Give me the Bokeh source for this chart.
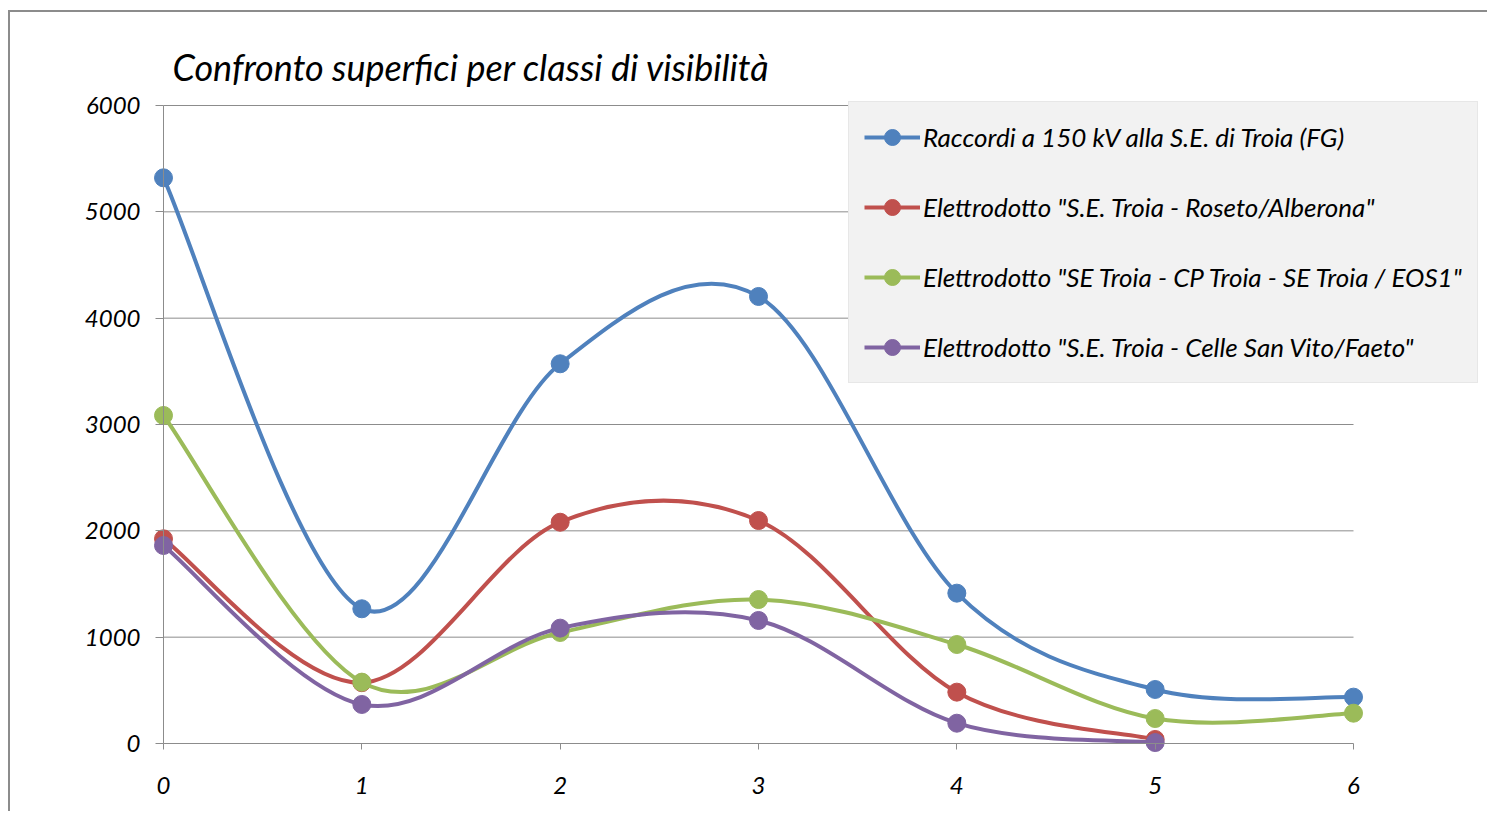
from bokeh.plotting import figure
from bokeh.models import Range1d, Legend, LegendItem, FixedTicker, ColumnDataSource
from bokeh.embed import file_html
from bokeh.resources import INLINE

# ---- data ----
classes = [0, 1, 2, 3, 4, 5, 6]
series_names = [
    "Raccordi a 150 kV alla S.E. di Troia (FG)",
    "Elettrodotto \"S.E. Troia - Roseto/Alberona\"",
    "Elettrodotto \"SE Troia - CP Troia - SE Troia / EOS1\"",
    "Elettrodotto \"S.E. Troia - Celle San Vito/Faeto\"",
]
raccordi = [5320, 1267, 3571, 4204, 1414, 508, 436]
roseto = [1925, 572, 2081, 2097, 483, 38]
eos1 = [3085, 577, 1044, 1354, 931, 235, 285]
celle = [1862, 367, 1085, 1157, 191, 9]
colors = ["#4F81BD", "#C0504D", "#9BBB59", "#8064A2"]
y_ticks = [0, 1000, 2000, 3000, 4000, 5000, 6000]
title_text = "Confronto superfici per classi di visibilità"

FONT = "Lato"

# layout (page px): frame left 70, right 1478, top 95, bottom 800
# x=0 at 163, x=6 at 1353; y=0 at 743, y=6000 at 105
px_x = (1353 - 163) / 6.0
px_y = (743 - 105) / 6000.0
x_start = (70 - 163) / px_x
x_end = (1478 - 163) / px_x
y_end = 6000 + (105 - 95) / px_y
y_start = -(800 - 743) / px_y

p = figure(
    width=1487, height=811,
    x_range=Range1d(x_start, x_end), y_range=Range1d(y_start, y_end),
    output_backend="svg", toolbar_location=None,
    min_border_left=70, min_border_right=9, min_border_top=95, min_border_bottom=11,
    title=title_text,
)
p.border_fill_color = None
p.background_fill_color = None
p.outline_line_color = None
p.styles = {
    "background": "linear-gradient(#8c8c8c,#8c8c8c) 8px 10px / 2px 100% no-repeat, "
                  "linear-gradient(#8c8c8c,#8c8c8c) 8px 10px / 100% 2px no-repeat, #ffffff"
}

p.title.text_font = FONT
p.title.text_font_style = "italic"
p.title.text_font_size = "36px"
p.title.text_font_style = "italic"
p.title.text_color = "#000000"
p.title.align = "left"
p.title.offset = 102
p.title.standoff = 13

p.grid.visible = False

# horizontal grid lines across the category span
gx0 = [classes[0]] * (len(y_ticks) - 1)
gx1 = [classes[-1]] * (len(y_ticks) - 1)
p.segment(x0=gx0, y0=y_ticks[1:], x1=gx1, y1=y_ticks[1:], line_color="#8c8c8c", line_width=1)

for ax in (p.xaxis[0], p.yaxis[0]):
    ax.fixed_location = 0
    ax.axis_line_color = "#8c8c8c"
    ax.axis_line_width = 1
    ax.major_tick_line_color = "#8c8c8c"
    ax.minor_tick_line_color = None
    ax.major_tick_in = 0
    ax.major_label_text_font = FONT
    ax.major_label_text_font_style = "italic"
    ax.major_label_text_font_size = "24px"
    ax.major_label_text_color = "#000000"

p.xaxis[0].bounds = (0, 6)
p.xaxis[0].ticker = FixedTicker(ticks=classes)
p.xaxis[0].major_tick_out = 6
p.xaxis[0].major_label_standoff = 27

p.yaxis[0].bounds = (0, 6000)
p.yaxis[0].ticker = FixedTicker(ticks=y_ticks)
p.yaxis[0].major_tick_out = 8
p.yaxis[0].major_label_standoff = 15


def smooth(xs, ys):
    # Catmull-Rom style Bezier control points (Excel-like smoothing)
    n = len(xs)
    x0, y0, x1, y1, cx0, cy0, cx1, cy1 = [], [], [], [], [], [], [], []
    for i in range(n - 1):
        xm = xs[i - 1] if i > 0 else xs[i]
        ym = ys[i - 1] if i > 0 else ys[i]
        xp = xs[i + 2] if i + 2 < n else xs[i + 1]
        yp = ys[i + 2] if i + 2 < n else ys[i + 1]
        x0.append(xs[i]); y0.append(ys[i])
        x1.append(xs[i + 1]); y1.append(ys[i + 1])
        cx0.append(xs[i] + (xs[i + 1] - xm) / 6.0)
        cy0.append(ys[i] + (ys[i + 1] - ym) / 6.0)
        cx1.append(xs[i + 1] - (xp - xs[i]) / 6.0)
        cy1.append(ys[i + 1] - (yp - ys[i]) / 6.0)
    return dict(x0=x0, y0=y0, x1=x1, y1=y1, cx0=cx0, cy0=cy0, cx1=cx1, cy1=cy1)


items = []
for name, vals, col in zip(series_names, [raccordi, roseto, eos1, celle], colors):
    xs = classes[:len(vals)]
    src = ColumnDataSource(smooth(xs, vals))
    rb = p.bezier(x0="x0", y0="y0", x1="x1", y1="y1", cx0="cx0", cy0="cy0", cx1="cx1", cy1="cy1",
                  source=src, line_color=col, line_width=4)
    rs = p.scatter(x=xs, y=vals, size=18, marker="circle", fill_color=col, line_color=col)
    items.append(LegendItem(label=name, renderers=[rb, rs]))

legend = Legend(items=items, location=(778, 417))
legend.background_fill_color = "#f2f2f2"
legend.background_fill_alpha = 1.0
legend.border_line_color = "#dcdcdc"
legend.border_line_width = 1
legend.padding = 15
legend.margin = 0
legend.spacing = 30
legend.glyph_width = 56
legend.glyph_height = 40
legend.label_height = 40
legend.label_standoff = 3
legend.label_text_font = FONT
legend.label_text_font_style = "italic"
legend.label_text_font_size = "26px"
legend.label_text_color = "#000000"
p.add_layout(legend, "center")

open("out.html", "w").write(file_html(p, INLINE))
